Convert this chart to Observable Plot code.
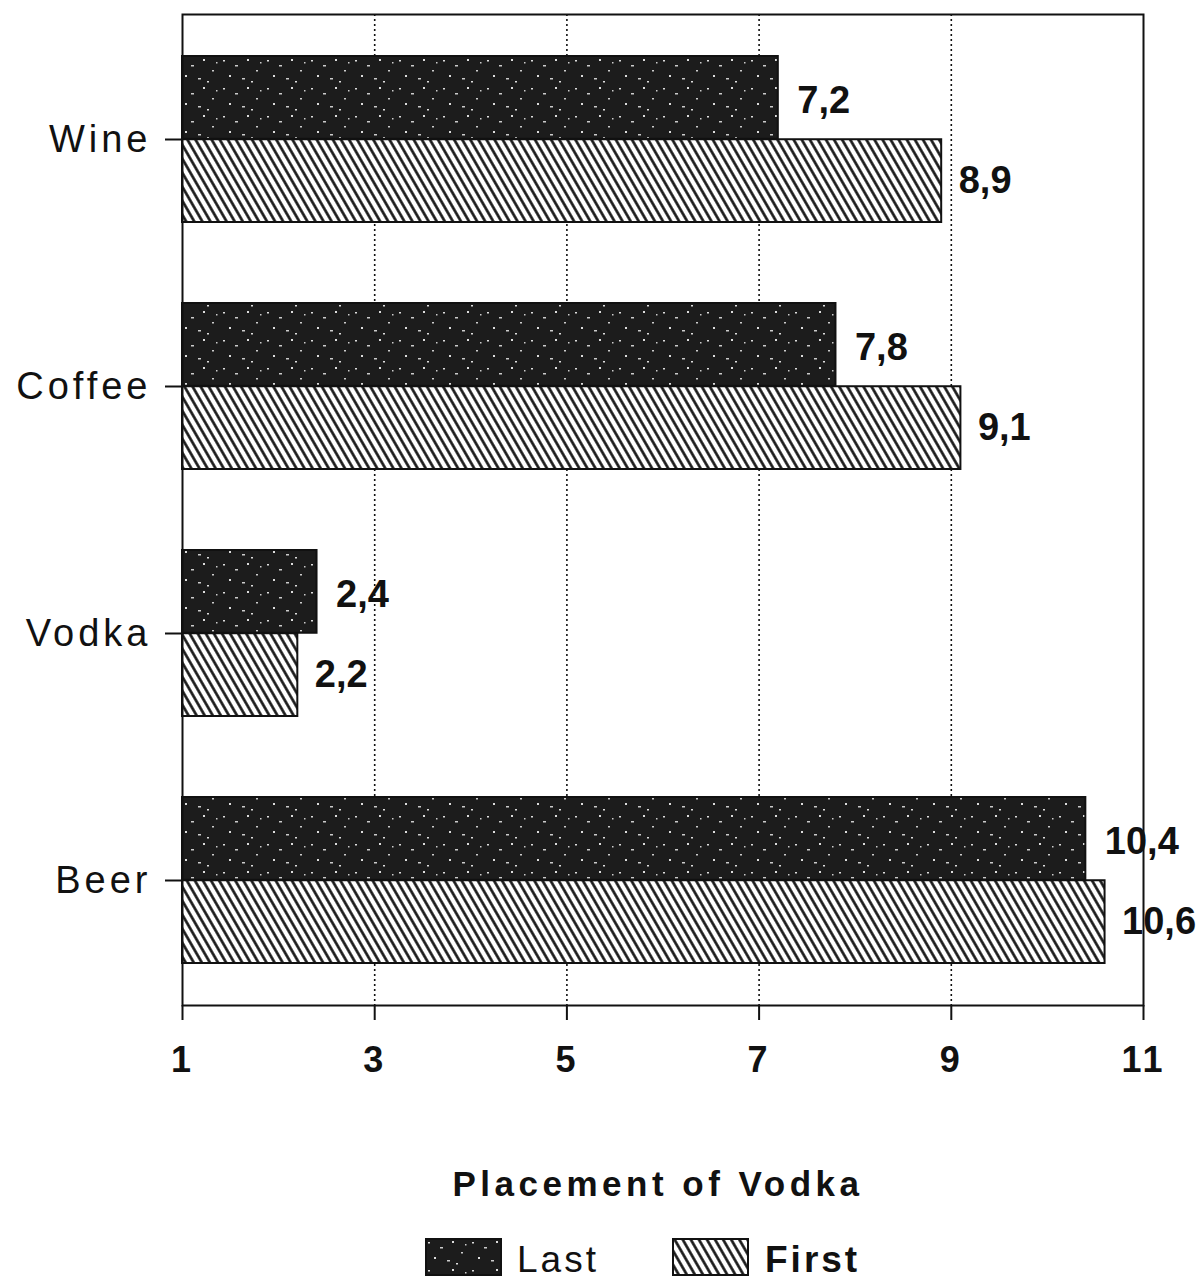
<!DOCTYPE html>
<html><head><meta charset="utf-8">
<script src="https://cdn.jsdelivr.net/npm/d3@7"></script>
<script src="https://cdn.jsdelivr.net/npm/@observablehq/plot@0.6"></script>
<style>
body{margin:0;background:#fff;font-family:"Liberation Sans",Arial,sans-serif;position:relative;width:1203px;height:1280px;overflow:hidden;}
#title{position:absolute;left:0;width:1316px;top:1164px;text-align:center;font-weight:bold;font-size:35px;letter-spacing:4.5px;color:#111;}
.sw{position:absolute;width:77px;height:38px;top:1238px;}
.lt{position:absolute;top:1240px;font-size:37px;color:#111;line-height:40px;}
</style></head><body>
<svg width="0" height="0" style="position:absolute">
<defs>
<pattern id="hatch" width="7" height="7" patternUnits="userSpaceOnUse" patternTransform="rotate(-30)">
<rect width="7" height="7" fill="white"/>
<line x1="1.5" y1="0" x2="1.5" y2="7" stroke="#111" stroke-width="2.6"/>
</pattern>
<pattern id="speckle" width="44" height="28" patternUnits="userSpaceOnUse">
<rect width="44" height="28" fill="#1c1c1c"/>
<rect x="3" y="4" width="2" height="1.5" fill="#ddd"/>
<rect x="15" y="9" width="3" height="1.5" fill="#ccc"/>
<rect x="27" y="3" width="2" height="2" fill="#ddd"/>
<rect x="36" y="14" width="2" height="1.5" fill="#ccc"/>
<rect x="9" y="19" width="2" height="2" fill="#ddd"/>
<rect x="22" y="22" width="3" height="1.5" fill="#ccc"/>
<rect x="31" y="25" width="2" height="1.5" fill="#ddd"/>
<rect x="40" y="6" width="1.5" height="1.5" fill="#ccc"/>
</pattern>
</defs>
</svg>
<div id="chart"></div>
<div id="title">Placement of Vodka</div>
<svg class="sw" style="left:425px" width="77" height="38"><rect x="1" y="1" width="75" height="36" fill="url(#speckle)" stroke="#111" stroke-width="2"/></svg>
<div class="lt" style="left:517px;letter-spacing:3px;">Last</div>
<svg class="sw" style="left:672px" width="77" height="38"><rect x="1" y="1" width="75" height="36" fill="url(#hatch)" stroke="#111" stroke-width="2"/></svg>
<div class="lt" style="left:765px;font-weight:bold;letter-spacing:3px;">First</div>
<script>
const categories = ["Wine", "Coffee", "Vodka", "Beer"];
const series = ["Last", "First"];
const lastValues = [7.2, 7.8, 2.4, 10.4];
const firstValues = [8.9, 9.1, 2.2, 10.6];
const xTicks = [1, 3, 5, 7, 9, 11];
const gridTicks = [3, 5, 7, 9];

const data = [];
categories.forEach((c, i) => {
  data.push({category: c, series: "Last", value: lastValues[i]});
  data.push({category: c, series: "First", value: firstValues[i]});
});

const W = 1203, H = 1100, mT = 14, mB = 95, mL = 182, mR = 60;
const pInner = 0.328, pOuter = 0.164;
const plotH = H - mT - mB;
const step = plotH / (categories.length - pInner + 2 * pOuter);
const bw = step * (1 - pInner);
const half = bw / 2;
const fmt = v => v.toFixed(1).replace(".", ",");
const font = "'Liberation Sans', Arial, sans-serif";

const chart = Plot.plot({
  width: W, height: H,
  marginTop: mT, marginBottom: mB, marginLeft: mL, marginRight: mR,
  style: {fontFamily: font, background: "white", color: "#111", overflow: "visible"},
  x: {domain: [xTicks[0], xTicks[xTicks.length - 1]], label: null},
  y: {domain: categories, paddingInner: pInner, paddingOuter: pOuter, label: null},
  marks: [
    Plot.gridX(gridTicks, {stroke: "#111", strokeOpacity: 1, strokeWidth: 1.6, strokeDasharray: "2,3"}),
    Plot.barX(data.filter(d => d.series === "Last"), {
      x1: xTicks[0], x2: "value", y: "category",
      fill: "url(#speckle)", stroke: "#111", strokeWidth: 2, insetBottom: half
    }),
    Plot.barX(data.filter(d => d.series === "First"), {
      x1: xTicks[0], x2: "value", y: "category",
      fill: "url(#hatch)", stroke: "#111", strokeWidth: 2, insetTop: half
    }),
    Plot.frame({stroke: "#111", strokeWidth: 2}),
    Plot.axisX({ticks: xTicks, tickSize: 15, tickPadding: 26, fontSize: 36, fontWeight: "bold", strokeWidth: 2, label: null, tickFormat: d => d}),
    Plot.axisY({tickSize: 17, tickPadding: 14, fontSize: 38, strokeWidth: 2, label: null}),
    Plot.text(data.filter(d => d.series === "Last"), {
      x: "value", y: "category", text: d => fmt(d.value), dx: 19, dy: -bw / 4 + 3,
      textAnchor: "start", fontSize: 38, fontWeight: "bold", fill: "#111"
    }),
    Plot.text(data.filter(d => d.series === "First"), {
      x: "value", y: "category", text: d => fmt(d.value), dx: 17, dy: bw / 4,
      textAnchor: "start", fontSize: 38, fontWeight: "bold", fill: "#111"
    })
  ]
});
d3.select(chart).selectAll('g[aria-label="y-axis tick label"] text').style("letter-spacing", "4px");
d3.select(chart).selectAll('g[aria-label="x-axis tick label"] text').style("letter-spacing", "3px");
document.getElementById("chart").appendChild(chart);
</script>
</body></html>
